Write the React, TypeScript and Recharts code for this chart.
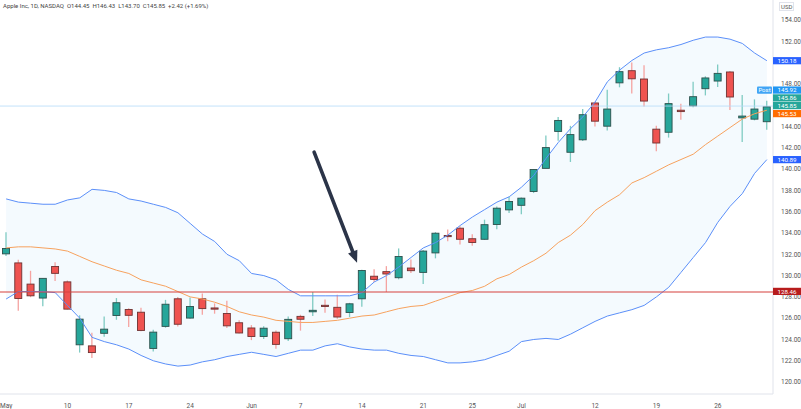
import React from 'react';
import { Area, Bar, ComposedChart, Line, ReferenceLine, XAxis, YAxis } from 'recharts';

// AAPL daily, May 3 - Jul 30 2021
const dates = [
  'May 3', 'May 4', 'May 5', 'May 6', 'May 7', 'May 10', 'May 11', 'May 12', 'May 13', 'May 14',
  'May 17', 'May 18', 'May 19', 'May 20', 'May 21', 'May 24', 'May 25', 'May 26', 'May 27', 'May 28',
  'Jun 1', 'Jun 2', 'Jun 3', 'Jun 4', 'Jun 7', 'Jun 8', 'Jun 9', 'Jun 10', 'Jun 11', 'Jun 14',
  'Jun 15', 'Jun 16', 'Jun 17', 'Jun 18', 'Jun 21', 'Jun 22', 'Jun 23', 'Jun 24', 'Jun 25', 'Jun 28',
  'Jun 29', 'Jun 30', 'Jul 1', 'Jul 2', 'Jul 6', 'Jul 7', 'Jul 8', 'Jul 9', 'Jul 12', 'Jul 13',
  'Jul 14', 'Jul 15', 'Jul 16', 'Jul 19', 'Jul 20', 'Jul 21', 'Jul 22', 'Jul 23', 'Jul 26', 'Jul 27',
  'Jul 28', 'Jul 29', 'Jul 30',
];

const open = [
  132.04, 131.19, 129.2, 127.89, 130.85, 129.41, 123.5, 123.4, 124.58, 126.25,
  126.82, 126.56, 123.16, 125.23, 127.82, 126.01, 127.82, 126.96, 126.44, 125.57,
  125.08, 124.28, 124.68, 124.07, 126.17, 126.6, 127.21, 127.02, 126.53, 127.82,
  129.94, 130.37, 129.8, 130.71, 130.3, 132.13, 133.77, 134.45, 133.46, 133.41,
  134.8, 136.17, 136.6, 137.9, 140.07, 143.54, 141.58, 142.75, 146.21, 144.03,
  148.1, 149.24, 148.46, 143.75, 143.46, 145.53, 145.94, 147.55, 148.27, 149.12,
  144.81, 144.69, 144.45,
];
const high = [
  134.07, 131.49, 130.45, 129.75, 131.26, 129.54, 126.27, 124.64, 126.15, 127.89,
  126.93, 126.99, 124.92, 127.72, 128.0, 127.94, 128.32, 127.39, 127.64, 125.8,
  125.35, 125.24, 124.85, 126.16, 126.32, 128.46, 127.75, 128.19, 127.44, 130.54,
  130.6, 130.89, 132.55, 131.51, 132.41, 134.08, 134.32, 134.64, 133.89, 135.25,
  136.49, 137.41, 137.33, 140.0, 143.15, 144.89, 144.06, 145.65, 146.32, 147.46,
  149.57, 150.0, 149.76, 144.07, 147.1, 146.13, 148.2, 148.72, 149.83, 149.21,
  146.97, 146.55, 146.43,
];
const low = [
  131.83, 126.7, 127.97, 127.13, 129.48, 126.81, 122.77, 122.25, 124.26, 125.85,
  125.17, 124.78, 122.86, 125.1, 125.21, 125.94, 126.32, 126.42, 125.08, 124.55,
  123.94, 124.05, 123.13, 123.85, 124.83, 126.21, 126.52, 125.94, 126.1, 127.07,
  129.39, 128.46, 129.65, 130.24, 129.21, 131.62, 133.23, 132.93, 132.81, 133.35,
  134.35, 135.87, 135.76, 137.75, 140.07, 142.66, 140.67, 142.65, 144.0, 143.63,
  147.68, 147.09, 145.88, 141.67, 142.96, 144.63, 145.81, 146.92, 147.7, 145.55,
  142.54, 144.58, 143.7,
];
const close = [
  132.54, 127.85, 128.1, 129.74, 130.21, 126.85, 125.91, 122.77, 124.97, 127.45,
  126.27, 124.85, 124.69, 127.31, 125.43, 127.1, 126.9, 126.85, 125.28, 124.61,
  124.28, 125.06, 123.54, 125.89, 125.9, 126.74, 127.13, 126.11, 127.35, 130.48,
  129.64, 130.15, 131.79, 130.46, 132.3, 133.98, 133.7, 133.41, 133.11, 134.78,
  136.33, 136.96, 137.27, 139.96, 142.02, 144.57, 143.24, 145.11, 144.5, 145.64,
  149.15, 148.48, 146.39, 142.45, 146.15, 145.4, 146.8, 148.56, 148.99, 146.77,
  144.98, 145.64, 145.85,
];

// Bollinger bands (20, 2)
const upper = [
  137.2, 136.9, 136.8, 136.7, 136.7, 137.1, 137.3, 138.1, 138.0, 137.8,
  137.2, 137.0, 136.7, 136.4, 135.9, 134.9, 133.9, 133.2, 132.0, 131.4,
  130.2, 130.0, 129.6, 128.7, 128.1, 128.1, 128.1, 128.1, 128.1, 128.4,
  129.4, 130.0, 130.8, 131.7, 132.6, 133.1, 133.8, 134.7, 135.5, 136.2,
  136.9, 137.4, 138.3, 139.4, 141.0, 142.5, 143.8, 144.9, 146.3, 148.2,
  149.3, 150.2, 150.9, 151.2, 151.4, 151.7, 152.1, 152.4, 152.4, 152.2,
  151.8, 150.9, 150.18,
];
const basis = [
  132.6, 132.7, 132.7, 132.6, 132.5, 132.3, 131.8, 131.3, 130.9, 130.5,
  130.2, 129.6, 129.3, 129.0, 128.5, 128.0, 127.8, 127.5, 127.1, 126.6,
  126.3, 126.1, 125.8, 125.7, 125.6, 125.6, 125.7, 125.8, 126.0, 126.2,
  126.3, 126.6, 126.9, 127.1, 127.2, 127.6, 128.0, 128.4, 128.6, 129.0,
  129.7, 130.1, 130.8, 131.4, 132.1, 133.1, 133.8, 134.8, 136.1, 136.9,
  137.6, 138.7, 139.2, 139.8, 140.4, 140.9, 141.4, 142.3, 143.1, 143.9,
  144.7, 145.2, 145.53,
];
const lower = [
  127.8, 128.5, 128.5, 128.5, 128.4, 127.2, 126.0, 124.2, 123.8, 123.5,
  123.1, 122.5, 122.0, 121.7, 121.5, 121.6, 121.9, 122.1, 122.4, 122.6,
  122.8, 122.6, 122.4, 122.7, 123.0, 123.0, 123.4, 123.6, 123.3, 123.1,
  123.0, 123.0, 122.7, 122.5, 122.4, 122.1, 121.8, 121.8, 121.9, 122.1,
  122.5, 122.9, 123.8, 124.0, 124.1, 124.0, 124.5, 125.1, 125.7, 126.2,
  126.5, 126.8, 127.2, 128.0, 128.9, 130.3, 131.7, 133.1, 135.0, 136.5,
  137.7, 139.6, 140.89,
];

const tickDates = ['May 3', 'May 10', 'May 17', 'May 24', 'Jun 1', 'Jun 7', 'Jun 14', 'Jun 21', 'Jun 25', 'Jul 1', 'Jul 12', 'Jul 19', 'Jul 26'];
const tickLabels = ['May', '10', '17', '24', 'Jun', '7', '14', '21', '25', 'Jul', '12', '19', '26'];
const priceTicks = [120, 122, 124, 126, 128, 130, 132, 134, 136, 138, 140, 142, 144, 146, 148, 150, 152, 154];

const supportLevel = 128.46;
const postPrice = 145.92;
const arrowFrom = { x: 25.1, y: 141.6 };
const arrowTo = { x: 28.6, y: 131.2 };

const data = dates.map((d, i) => ({
  i,
  date: d,
  open: open[i],
  high: high[i],
  low: low[i],
  close: close[i],
  upper: upper[i],
  basis: basis[i],
  lower: lower[i],
}));

const tickIdx = tickDates.map((d) => dates.indexOf(d));

const UP = '#26a69a';
const DOWN = '#ef5350';
const FONT = 'Roboto, "Liberation Sans", sans-serif';

const Candle = (props: any) => {
  const { x, y, width, height, payload } = props;
  if (payload == null) return null;
  const { open: o, high: h, low: l, close: c } = payload;
  const top = Math.min(y, y + height);
  const ht = Math.abs(height);
  const k = h === l ? 0 : ht / (h - l);
  const up = c >= o;
  const bTop = top + (h - Math.max(o, c)) * k;
  const bH = Math.max(Math.abs(o - c) * k, 1.2);
  const cx = x + width / 2;
  return (
    <g>
      <line x1={cx} x2={cx} y1={top} y2={top + ht} stroke={up ? '#7fcbc3' : '#f5a3a1'} strokeWidth={1.3} />
      <rect
        x={x + 0.5}
        y={bTop}
        width={width - 1}
        height={bH}
        fill={up ? UP : DOWN}
        stroke={up ? '#2c4f4b' : '#6e3232'}
        strokeWidth={0.9}
      />
    </g>
  );
};

const Tag = ({ viewBox, text, color, shift = 0, post }: any) => {
  if (!viewBox) return null;
  const right = viewBox.x + viewBox.width;
  const cy = viewBox.y + shift;
  return (
    <g>
      {post && (
        <g>
          <rect x={right - 16} y={cy - 3.6} width={15} height={7.2} fill="#42a5f5" rx={1} />
          <text x={right - 8.5} y={cy + 2.1} textAnchor="middle" fontSize={6} fill="#fff" fontFamily={FONT}>
            Post
          </text>
        </g>
      )}
      <rect x={right} y={cy - 3.6} width={28} height={7.2} fill={color} />
      <text x={right + 14} y={cy + 2.2} textAnchor="middle" fontSize={6.2} fill="#fff" fontFamily={FONT}>
        {text}
      </text>
    </g>
  );
};

const priceTags = [
  { value: 150.18, color: '#2962ff', shift: 0 },
  { value: 145.86, color: UP, shift: -8.8 },
  { value: 145.85, color: UP, shift: -1.2 },
  { value: 145.53, color: '#ff6d00', shift: 3.4 },
  { value: 140.89, color: '#2962ff', shift: 0 },
];

// price-scale ticks that sit under a tag in the reference
const coveredTicks = [146, 150];

const PriceTick = (props: any) => {
  const { x, y, payload } = props;
  if (coveredTicks.includes(payload.value)) return null;
  return (
    <text x={x} y={y} dy="0.355em" textAnchor="start" fontSize={6.5} fill="#555" fontFamily={FONT}>
      {payload.value.toFixed(2)}
    </text>
  );
};

const Arrow = (props: any) => {
  const { x1, y1, x2, y2 } = props;
  const dx = x2 - x1;
  const dy = y2 - y1;
  const len = Math.sqrt(dx * dx + dy * dy) || 1;
  const ux = dx / len;
  const uy = dy / len;
  const hl = 12;
  const hw = 5;
  const bx = x2 - ux * hl;
  const by = y2 - uy * hl;
  return (
    <g>
      <line x1={x1} y1={y1} x2={bx + ux * 2} y2={by + uy * 2} stroke="#2b3448" strokeWidth={3.6} strokeLinecap="round" />
      <polygon
        points={`${x2},${y2} ${bx - uy * hw},${by + ux * hw} ${bx + uy * hw},${by - ux * hw}`}
        fill="#2b3448"
      />
    </g>
  );
};

export default function App() {
  return (
    <div style={{ position: 'absolute', left: 0, top: 0, width: 801, height: 409, background: '#fff', fontFamily: FONT }}>
      <ComposedChart width={801} height={409} data={data} margin={{ top: 0, right: 0, bottom: 0, left: 0 }}>
        <XAxis
          dataKey="i"
          type="number"
          domain={[-0.5, 62.5]}
          ticks={tickIdx}
          interval={0}
          tickFormatter={(v: number) => tickLabels[tickIdx.indexOf(v)] ?? ''}
          tickLine={false}
          axisLine={{ stroke: '#e0e3eb' }}
          height={15}
          tickMargin={3}
          tick={{ fontSize: 6.5, fill: '#555', fontFamily: FONT }}
        />
        <YAxis
          orientation="right"
          type="number"
          domain={[118.88, 155.88]}
          ticks={priceTicks}
          interval={0}
          allowDataOverflow
          tickLine={false}
          axisLine={{ stroke: '#e0e3eb' }}
          width={28}
          tickMargin={2}
          tick={<PriceTick />}
        />
        <Area
          dataKey={(d: any) => [d.lower, d.upper]}
          fill="#2196f3"
          fillOpacity={0.05}
          stroke="none"
          isAnimationActive={false}
          activeDot={false}
        />
        <Line dataKey="upper" stroke="#5b8ff9" strokeWidth={1} dot={false} activeDot={false} isAnimationActive={false} />
        <Line dataKey="lower" stroke="#5b8ff9" strokeWidth={1} dot={false} activeDot={false} isAnimationActive={false} />
        <Line dataKey="basis" stroke="#f7a25e" strokeWidth={1} dot={false} activeDot={false} isAnimationActive={false} />
        <ReferenceLine
          y={postPrice}
          stroke="#b3daf8"
          strokeWidth={0.8}
          zIndex={3000}
          label={{ zIndex: 3000, content: (p: any) => <Tag viewBox={p.viewBox} text={postPrice.toFixed(2)} color="#2196f3" shift={-16} post /> }}
        />
        <ReferenceLine
          y={supportLevel}
          stroke="#d6403c"
          strokeWidth={1.2}
          zIndex={3000}
          label={{ zIndex: 3000, content: (p: any) => <Tag viewBox={p.viewBox} text={supportLevel.toFixed(2)} color="#b71c1c" shift={-0.6} /> }}
        />
        <Bar dataKey={(d: any) => [d.low, d.high]} barSize={8} shape={<Candle />} isAnimationActive={false} />
        {priceTags.map((t) => (
          <ReferenceLine
            key={t.value}
            y={t.value}
            stroke="none"
            zIndex={3000}
            label={{ zIndex: 3000, content: (p: any) => <Tag viewBox={p.viewBox} text={t.value.toFixed(2)} color={t.color} shift={t.shift} /> }}
          />
        ))}
        <ReferenceLine segment={[arrowFrom, arrowTo]} ifOverflow="visible" shape={(p: any) => <Arrow {...p} />} />
      </ComposedChart>
      <div style={{ position: 'absolute', left: 3, top: 2, fontSize: 6, color: '#444', whiteSpace: 'pre' }}>
        {'Apple Inc, 1D, NASDAQ  O144.45  H146.43  L143.70  C145.85  +2.42 (+1.69%)'}
      </div>
      <div style={{ position: 'absolute', left: 779, top: 2, fontSize: 6, color: '#555', border: '1px solid #e0e3eb', padding: '0 1px', lineHeight: '7px' }}>
        USD
      </div>
    </div>
  );
}
